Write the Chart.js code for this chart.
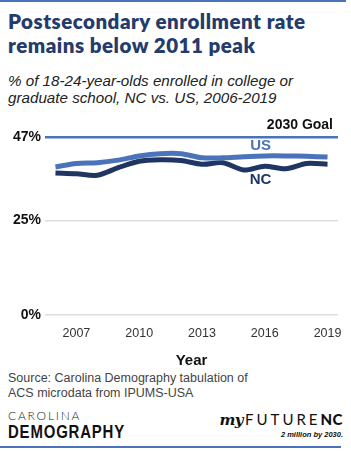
<!DOCTYPE html>
<html>
<head>
<meta charset="utf-8">
<script src="https://cdn.jsdelivr.net/npm/chart.js@4"></script>
<style>
  html, body { margin: 0; padding: 0; background: #fff; }
  body { width: 351px; height: 451px; position: relative; overflow: hidden; font-family: 'Liberation Sans', Arial, sans-serif; }
  .topline { position: absolute; left: 0; top: 0; width: 346px; height: 2px; background: #4a73bb; }
  .botline { position: absolute; left: 0; top: 446px; width: 341px; height: 2px; background: #4a73bb; }
  h1 { position: absolute; left: 8px; top: 9px; margin: 0; font: 800 20.5px/24px Lato, sans-serif; letter-spacing: 0.5px; color: #243b6b; }
  .sub { position: absolute; left: 8px; top: 72px; margin: 0; font: italic 15.2px/17px 'Liberation Sans', Arial, sans-serif; color: #222; }
  #wrap { position: absolute; left: 0; top: 105px; width: 351px; height: 265px; }
  .src { position: absolute; left: 8px; top: 371px; font: 12.5px/14.5px 'Liberation Sans', Arial, sans-serif; color: #444; }
  .cd1 { position: absolute; left: 8px; top: 409px; font: 300 12px/13px Lato, sans-serif; letter-spacing: 1.8px; color: #222; }
  .cd2 { position: absolute; left: 8px; top: 423px; font: 700 18px/18px 'Liberation Sans', sans-serif; letter-spacing: 1px; color: #111; transform: scaleX(0.83); transform-origin: left top; }
  .mf { position: absolute; right: 8px; top: 411px; font: 15px/17px Lato, sans-serif; color: #111; white-space: nowrap; }
  .mf .my { font: italic 700 15px 'DejaVu Serif', serif; letter-spacing: -0.5px; margin-right: 2px; }
  .mf .fu { font-weight: 400; letter-spacing: 3px; }
  .mf .nc { font-weight: 900; letter-spacing: 0.5px; }
  .mf2 { position: absolute; right: 8px; top: 430px; font: italic 700 7.5px 'Liberation Sans', Arial, sans-serif; color: #111; }
</style>
</head>
<body>
<div class="topline"></div>
<h1>Postsecondary enrollment rate<br>remains below 2011 peak</h1>
<p class="sub">% of 18-24-year-olds enrolled in college or<br>graduate school, NC vs. US, 2006-2019</p>
<div id="wrap"><canvas id="chart" width="351" height="265"></canvas></div>
<div class="src">Source: Carolina Demography tabulation of<br>ACS microdata from IPUMS-USA</div>
<div class="cd1">CAROLINA</div>
<div class="cd2">DEMOGRAPHY</div>
<div class="mf"><span class="my">my</span><span class="fu">FUTURE</span><span class="nc">NC</span></div>
<div class="mf2">2 million by 2030.</div>
<div class="botline"></div>
<script>
const years = [2006, 2007, 2008, 2009, 2010, 2011, 2012, 2013, 2014, 2015, 2016, 2017, 2018, 2019];
const usRate = [39.1, 40.0, 40.2, 40.9, 42.0, 42.6, 42.6, 41.5, 41.5, 41.8, 42.0, 42.0, 41.9, 41.7];
const ncRate = [37.5, 37.3, 36.9, 38.9, 40.6, 41.0, 40.8, 39.8, 40.2, 38.3, 39.3, 38.6, 40.0, 39.8];
const goalRate = 47;
const yTicks = [0, 25, 47];
const xTicks = [2007, 2010, 2013, 2016, 2019];

const US_COLOR = '#4a73bb';
const NC_COLOR = '#1f3562';

// labels: "2030 Goal", US, NC
const labelPlugin = {
    id: 'labels',
    afterDatasetsDraw(chart) {
        const { ctx, chartArea, scales } = chart;
        const x = scales.x, y = scales.y;
        ctx.save();
        ctx.textBaseline = 'middle';
        ctx.font = "bold 14px 'Liberation Sans', Arial, sans-serif";
        ctx.fillStyle = '#111';
        ctx.textAlign = 'right';
        ctx.fillText('2030 Goal', chartArea.right - 5, y.getPixelForValue(goalRate) - 12);
        ctx.textAlign = 'center';
        ctx.font = "bold 15px 'Liberation Sans', Arial, sans-serif";
        ctx.fillStyle = US_COLOR;
        ctx.fillText('US', x.getPixelForValue(2015.8), y.getPixelForValue(usRate[10]) - 10);
        ctx.fillStyle = NC_COLOR;
        ctx.fillText('NC', x.getPixelForValue(2015.8), y.getPixelForValue(ncRate[10]) + 14);
        ctx.restore();
    }
};

new Chart(document.getElementById('chart'), {
    type: 'line',
    data: {
        datasets: [
            {
                label: 'US',
                data: years.map((yr, i) => ({ x: yr, y: usRate[i] })),
                borderColor: US_COLOR,
                borderWidth: 5,
                pointRadius: 0,
                tension: 0.3,
                clip: false,
            },
            {
                label: 'NC',
                data: years.map((yr, i) => ({ x: yr, y: ncRate[i] })),
                borderColor: NC_COLOR,
                borderWidth: 5,
                pointRadius: 0,
                tension: 0.3,
                clip: false,
            }
        ]
    },
    options: {
        responsive: false,
        animation: false,
        layout: { padding: { top: 32, right: 13, left: 0, bottom: 0 } },
        scales: {
            x: {
                type: 'linear',
                min: 2005.5,
                max: 2019.5,
                afterBuildTicks: s => { s.ticks = xTicks.map(v => ({ value: v })); },
                grid: { display: false },
                border: { display: false },
                ticks: {
                    callback: v => String(v),
                    color: '#333',
                    font: { size: 12.5, family: "'Liberation Sans', Arial, sans-serif" },
                    padding: 3,
                    maxRotation: 0,
                },
                title: {
                    display: true,
                    text: 'Year',
                    color: '#111',
                    font: { size: 15, weight: 'bold', family: "'Liberation Sans', Arial, sans-serif" },
                    padding: { top: 8, bottom: 0 },
                }
            },
            y: {
                min: 0,
                max: goalRate,
                afterBuildTicks: s => { s.ticks = yTicks.map(v => ({ value: v })); },
                afterFit: s => { s.width = 45; },
                border: { display: false },
                grid: {
                    drawTicks: false,
                    color: c => c.tick && c.tick.value === goalRate ? US_COLOR : '#dddddd',
                    lineWidth: c => c.tick && c.tick.value === goalRate ? 2.5 : 1.5,
                },
                ticks: {
                    callback: v => v + '%',
                    color: '#111',
                    font: { size: 14, weight: 'bold', family: "'Liberation Sans', Arial, sans-serif" },
                    padding: 4,
                }
            }
        },
        plugins: {
            legend: { display: false },
            tooltip: { enabled: false }
        }
    },
    plugins: [labelPlugin]
});
</script>
</body>
</html>
